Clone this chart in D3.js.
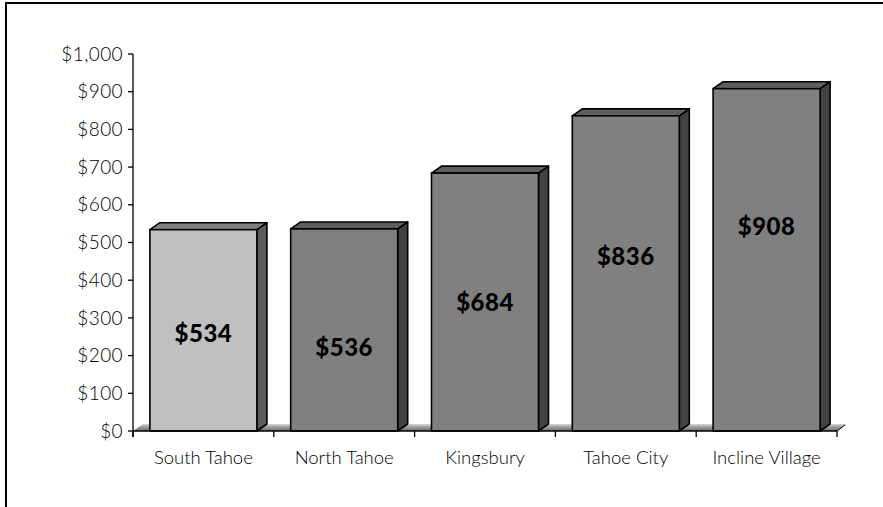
<!DOCTYPE html>
<html>
<head>
<meta charset="utf-8">
<script src="https://cdn.jsdelivr.net/npm/d3@7"></script>
<style>
  html, body { margin: 0; padding: 0; background: #fff; }
  svg { display: block; }
  .tick-label { font-family: Lato, "Open Sans", sans-serif; font-weight: 300; fill: #000; }
  .value-label { font-family: Lato, "Open Sans", sans-serif; font-weight: 900; fill: #000; }
</style>
</head>
<body>
<svg id="chart" width="883" height="507"></svg>
<script>
// Average price by area
const categories = ["South Tahoe", "North Tahoe", "Kingsbury", "Tahoe City", "Incline Village"];
const prices = [534, 536, 684, 836, 908];
const yTicks = [0, 100, 200, 300, 400, 500, 600, 700, 800, 900, 1000];
const highlighted = ["South Tahoe"];
// Height (in $ units) at which each value label sits inside its bar
const labelLevel = [260, 221, 340, 464, 542];

const W = 883, H = 507;
const svg = d3.select("#chart");

// outer frame (left and top edges visible)
svg.append("path")
  .attr("d", `M6,${H} V3 H${W}`)
  .attr("fill", "none")
  .attr("stroke", "#000")
  .attr("stroke-width", 2);

const y = d3.scaleLinear().domain([0, 1000]).range([431, 54]);
const x = d3.scaleBand().domain(categories).range([133, 837])
  .paddingInner(0.24).paddingOuter(0.12);

const depthX = 10, depthY = 7;
const x0 = 133, x1 = 837, y0 = y(0);

// floor gradient
const defs = svg.append("defs");
const grad = defs.append("linearGradient").attr("id", "floorGrad")
  .attr("x1", 0).attr("y1", 0).attr("x2", 0).attr("y2", 1);
grad.append("stop").attr("offset", "0%").attr("stop-color", "#d8d8d8");
grad.append("stop").attr("offset", "45%").attr("stop-color", "#9a9a9a");
grad.append("stop").attr("offset", "100%").attr("stop-color", "#707070");

// floor plane
svg.append("path")
  .attr("d", `M${x0},${y0} L${x0 + depthX},${y0 - depthY} L${x1 + depthX},${y0 - depthY} L${x1},${y0} Z`)
  .attr("fill", "url(#floorGrad)");
svg.append("path")
  .attr("d", `M${x1},${y0} L${x1 + depthX - 2},${y0 - depthY + 1}`)
  .attr("stroke", "#000").attr("stroke-width", 1).attr("fill", "none");

// 3D bars
const bars = svg.append("g").selectAll("g").data(categories).join("g");
bars.each(function (c, i) {
  const g = d3.select(this);
  const bx = x(c), bw = x.bandwidth();
  const top = y(prices[i]);
  const isHi = highlighted.includes(c);
  const front = isHi ? "#c0c0c0" : "#808080";
  const topFill = isHi ? "#818181" : "#5e5e5e";
  const side = isHi ? "#5c5c5c" : "#424242";
  const sw = 1.6;
  // side face
  g.append("path")
    .attr("d", `M${bx + bw},${top} L${bx + bw + depthX},${top - depthY} L${bx + bw + depthX},${y0 - depthY} L${bx + bw},${y0} Z`)
    .attr("fill", side).attr("stroke", "#000").attr("stroke-width", sw).attr("stroke-linejoin", "round");
  // top face
  g.append("path")
    .attr("d", `M${bx},${top} L${bx + depthX},${top - depthY} L${bx + bw + depthX},${top - depthY} L${bx + bw},${top} Z`)
    .attr("fill", topFill).attr("stroke", "#000").attr("stroke-width", sw).attr("stroke-linejoin", "round");
  // front face
  g.append("rect")
    .attr("x", bx).attr("y", top).attr("width", bw).attr("height", y0 - top)
    .attr("fill", front).attr("stroke", "#000").attr("stroke-width", sw);
  // value label
  g.append("text")
    .attr("class", "value-label")
    .attr("x", bx + bw / 2)
    .attr("y", y(labelLevel[i]))
    .attr("dy", "0.36em")
    .attr("text-anchor", "middle")
    .attr("font-size", 24)
    .attr("letter-spacing", 0.5)
    .text("$" + d3.format(",")(prices[i]));
});

// y axis
const yAxis = svg.append("g");
yAxis.append("line")
  .attr("x1", x0).attr("x2", x0).attr("y1", y(1000)).attr("y2", y0 + 6)
  .attr("stroke", "#000").attr("stroke-width", 1.3);
yAxis.selectAll(".yt").data(yTicks).join("line")
  .attr("x1", x0 - 5).attr("x2", x0)
  .attr("y1", d => y(d)).attr("y2", d => y(d))
  .attr("stroke", "#000").attr("stroke-width", 1.3);
yAxis.selectAll("text").data(yTicks).join("text")
  .attr("class", "tick-label")
  .attr("x", x0 - 10)
  .attr("y", d => y(d))
  .attr("dy", "0.35em")
  .attr("text-anchor", "end")
  .attr("font-size", 19)
  .attr("letter-spacing", 0.4)
  .text(d => "$" + d3.format(",")(d));

// x axis
const xAxis = svg.append("g");
xAxis.append("line")
  .attr("x1", x0).attr("x2", x1).attr("y1", y0).attr("y2", y0)
  .attr("stroke", "#000").attr("stroke-width", 1.5);
const boundaries = d3.range(categories.length + 1).map(i => x0 + i * x.step());
xAxis.selectAll(".xt").data(boundaries).join("line")
  .attr("x1", d => d).attr("x2", d => d)
  .attr("y1", y0).attr("y2", y0 + 6)
  .attr("stroke", "#000").attr("stroke-width", 1.3);
xAxis.selectAll("text").data(categories).join("text")
  .attr("class", "tick-label")
  .attr("x", d => x(d) + x.bandwidth() / 2)
  .attr("y", 464)
  .attr("text-anchor", "middle")
  .attr("font-size", 18.5)
  .text(d => d);
</script>
</body>
</html>
